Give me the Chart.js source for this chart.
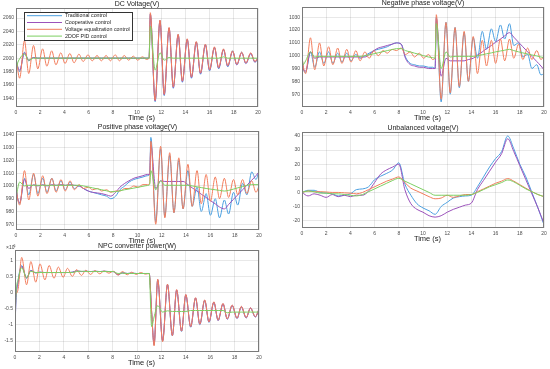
<!DOCTYPE html>
<html lang="en">
  <head>
    <meta charset="UTF-8" />
    <title>Control comparison</title>
    <script src="https://cdn.jsdelivr.net/npm/chart.js"></script>
    <style>
      body { margin: 0; background: #fff; width: 550px; height: 369px; overflow: hidden; position: relative; }
      canvas { position: absolute; }
    </style>
  </head>
  <body>
    <canvas id="dcChart"></canvas>
    <canvas id="negChart"></canvas>
    <canvas id="posChart"></canvas>
    <canvas id="unbChart"></canvas>
    <canvas id="npcChart"></canvas>
    <script>
      // series names
      var seriesNames = ["Traditional control", "Cooperative control", "Voltage equalization control", "2DOF PID control"];
      var seriesColors = ["#4a9fe0", "#9b52bb", "#f27d5c", "#7dcf62"];

      var timeTicks = [0, 2, 4, 6, 8, 10, 12, 14, 16, 18, 20];

      // shared time samples (s) for DC / negative / positive panels
      var gridTime = [0, 0.1, 0.3, 0.7, 1.05, 1.45, 1.8, 2.2, 2.55, 2.95,
        3.3, 3.7, 4.05, 4.45, 4.8, 5.2, 5.55, 5.95, 6.3, 6.7,
        7.05, 7.45, 7.8, 8.2, 8.55, 8.95, 9.3, 9.7, 10.05, 10.45,
        10.8, 11.0, 11.1, 11.5, 11.9, 12.25, 12.65, 13.0, 13.4, 13.75,
        14.15, 14.5, 14.9, 15.25, 15.65, 16.0, 16.4, 16.75, 17.15, 17.5,
        17.9, 18.25, 18.65, 19.0, 19.4, 19.75, 20];

      // DC Voltage(V)
      var dcTicks = [1940, 1960, 1980, 2000, 2020, 2040, 2060];
      var dcTrad = [2000, 1990, 1980, 2009, 1996, 2001, 2000, 2000, 2000, 2000,
        2000, 2000, 2000, 2000, 2000, 2000, 2000, 2000, 2000, 2000,
        2000, 2000, 2000, 2000, 2000, 2000, 2000, 2000, 2000, 2000,
        2000, 2000, 2066, 1935, 2056, 1944, 2045, 1955, 2035, 1964,
        2028, 1970, 2024, 1976, 2020, 1981, 2016, 1984, 2013, 1987,
        2011, 1990, 2009, 1992, 2007, 1994, 2000];
      var dcCoop = [2000, 1990, 1982, 2008, 1997, 2001, 2000, 2000, 2000, 2000,
        2000, 2000, 2000, 2000, 2000, 2000, 2000, 2000, 2000, 2000,
        2000, 2000, 2000, 2000, 2000, 2000, 2000, 2000, 2000, 2000,
        2000, 2000, 2066, 1936, 2056, 1945, 2045, 1956, 2035, 1965,
        2028, 1971, 2024, 1977, 2020, 1982, 2016, 1985, 2013, 1988,
        2010, 1990, 2008, 1992, 2007, 1994, 2000];
      var dcEqual = [2000, 1988, 1970, 2026, 1977, 2019, 1984, 2014, 1988, 2011,
        1990, 2008, 1992, 2007, 1993, 2006, 1995, 2005, 1996, 2004,
        1996, 2004, 1996, 2005, 1996, 2004, 1997, 2003, 1997, 2002,
        1998, 2000, 2068, 1937, 2057, 1946, 2046, 1957, 2036, 1966,
        2029, 1972, 2025, 1978, 2021, 1983, 2017, 1986, 2014, 1989,
        2011, 1991, 2009, 1993, 2008, 1995, 2002];
      var dcPid = [1978, 1990, 1999, 2006, 1997, 2000, 2000, 2000, 2000, 2000,
        2000, 2000, 2000, 2000, 2000, 2000, 2000, 2000, 2000, 2000,
        2000, 2000, 2000, 2000, 2000, 2000, 2000, 2000, 2000, 2000,
        2000, 2000, 2048, 1982, 2008, 1997, 2001, 2000, 2000, 2000,
        2000, 2000, 2000, 2000, 2000, 2000, 2000, 2000, 2002, 2000,
        2000, 2000, 2000, 2000, 2000, 2000, 2000];

      // Negative phase voltage(V)
      var negTicks = [970, 980, 990, 1000, 1010, 1020, 1030];
      var negTrad = [1000, 990, 987, 1003, 991, 1003, 994, 1003, 994, 1002,
        995, 1002, 996, 1001, 998, 1000, 1002, 1004, 1005, 1006,
        1007, 1009, 1010, 1009, 999, 994, 993, 992, 992, 991,
        991, 990, 1030, 964, 1026, 970, 1022, 975, 1018, 980,
        1014, 998, 1019, 1005, 1021, 1011, 1024, 1013, 1025, 1008,
        1010, 999, 1001, 990, 993, 985, 986];
      var negCoop = [1000, 990, 988, 1003, 998, 999, 999, 999, 999, 999,
        999, 999, 999, 999, 999, 999, 1001, 1004, 1006, 1007,
        1008, 1009, 1010, 1009, 998, 993, 992, 991, 991, 990,
        990, 990, 1029, 984, 998, 996, 996, 996, 996, 997,
        998, 1000.5, 1003, 1005.5, 1008, 1010.5, 1013, 1015.5, 1018, 1014.5,
        1010.5, 1007, 1003, 999.5, 995.5, 992, 989];
      var negEqual = [1000, 992, 986, 1014, 989, 1010, 992, 1007, 993, 1006,
        994, 1005, 995, 1004, 996, 1003, 998, 1004, 1000, 1004,
        1002, 1005, 1004, 1006, 1001, 1003, 999, 1002, 998, 1001,
        997, 998, 1032, 966, 1026, 971, 1022, 976, 1019, 980,
        1015, 986, 1012, 992, 1012, 994, 1013, 996, 1013, 998,
        1009, 997, 1006, 997, 1004, 997, 1000];
      var negPid = [1000, 993, 996, 1003, 999, 999.5, 999.5, 999.5, 999.5, 999.5,
        999.5, 999.5, 999.5, 999.5, 999.5, 1000, 1000.7, 1001.5, 1002.3, 1003.2,
        1004, 1004.8, 1005.5, 1005.5, 1004, 1003, 1002, 1001, 1000, 999,
        998.5, 998, 1025, 990, 1003, 999, 999.5, 999.5, 999.5, 999.5,
        999.5, 1000, 1000.8, 1001.5, 1002.2, 1003, 1003.7, 1004.3, 1005, 1004,
        1003, 1002.2, 1001.4, 1000.6, 999.8, 999, 998.5];

      // Positive phase voltage(V)
      var posTicks = [970, 980, 990, 1000, 1010, 1020, 1030, 1040];
      var posTrad = [1000, 992, 986, 1006, 993, 1009, 994, 1006, 995, 1006,
        996, 1004, 997, 1003, 998, 1000, 998, 996, 995, 994,
        993, 992, 990, 992, 997, 1000, 1003, 1005, 1006, 1007,
        1008, 1009, 1038, 972, 1029, 976, 1024, 979, 1020, 982,
        1012, 984, 999, 980, 994, 977, 990, 975, 989, 978,
        995, 985, 1002, 993, 1011, 1005, 1012];
      var posCoop = [1000, 992, 987, 1005, 998, 1001, 1000, 1001, 1000, 1001,
        1000.5, 1001, 1000.5, 1001, 1000.5, 1000, 998, 996, 995, 994.5,
        994, 993, 992, 995, 999, 1002, 1004, 1006, 1007, 1008,
        1009, 1009, 1032, 998, 1004, 1003.5, 1003.5, 1003.5, 1003.5, 1003.5,
        1001, 998.5, 996, 993.5, 991, 988.5, 986, 983.5, 982, 985.5,
        989.5, 993, 997, 1000.5, 1004.5, 1008, 1011];
      var posEqual = [1000, 992, 985, 1012, 989, 1010, 992, 1008, 994, 1006,
        995, 1005, 996, 1004, 997, 1001, 998, 999, 997, 998,
        996, 997, 995, 996, 996, 998, 998, 1000, 999, 1001,
        1001, 1002, 1035, 970, 1031, 975, 1026, 979, 1022, 982,
        1017, 984, 1012, 986, 1009, 988, 1007, 990, 1006, 991,
        1005, 993, 1005, 994, 1004, 995, 1000];
      var posPid = [991, 996, 1003, 1000, 1000.5, 1000.5, 1000.5, 1000.5, 1000.5, 1000.5,
        1000.5, 1000.5, 1000.5, 1000.5, 1000.5, 1000.5, 1000, 999.2, 998.5, 997.7,
        997, 996.2, 995.5, 995.5, 996.2, 997, 997.6, 998.3, 999, 999.7,
        1000.3, 1001, 1012, 997, 1004, 1000.5, 1000.5, 1000.5, 1000.5, 1000.5,
        1000.5, 1000, 999.3, 998.7, 998, 997.5, 997, 996.5, 996, 996.5,
        997.5, 998.5, 999.5, 1000.5, 1001, 1001, 1001];

      // Unbalanced voltage(V)
      var unbTicks = [-20, -10, 0, 10, 20, 30, 40];
      var unbTime = [0, 0.5, 1, 1.5, 2, 2.5, 3, 3.5, 4, 4.5,
        5, 5.5, 6, 6.5, 7, 7.5, 8, 8.5, 9, 9.5,
        10, 10.5, 11, 11.5, 12, 12.5, 13, 13.5, 14, 14.5,
        15, 15.5, 16, 16.5, 17, 17.5, 18, 18.5, 19, 19.5, 20];
      var unbTrad = [0, 1.5, 1.5, 0, -0.5, -1, -2.5, -2, -1, 2,
        2.5, 4, 9, 11.5, 13.5, 16, 21, 6, -2, -8,
        -11, -13, -15.5, -10, -7, -4, -3, -2.5, -2, 4,
        11, 18, 24, 29, 40, 31, 20, 11, 0, -11, -23];
      var unbCoop = [0, -2.5, -1, -2, -3.5, -1.5, -3, -2, -3, -2,
        -2, 1, 7, 13, 16, 18, 20, 2, -8, -12,
        -14, -16.5, -17.5, -16.5, -14, -12, -10.5, -9, -7.5, 2,
        8.5, 15, 21.5, 27.5, 38, 29, 19, 9, -1, -11, -22];
      var unbEqual = [0, 1, 0.5, 0.5, 0.3, 0, 0, -0.3, -0.5, -1,
        0, 2, 4, 6, 8, 9.5, 11, 7, 3, 1,
        -1, -3, -4.5, -4, -2, -3.5, -2.5, -1.5, -1.5, 0.5,
        2.5, 4.5, 6.5, 8, 9.8, 8, 5.5, 3, 0.5, -1.5, -3];
      var unbPid = [0, 1, 0.5, -0.5, -0.5, -1, -1, -1.5, -2, -2.5,
        -1.5, 0.5, 2.5, 4.5, 6.5, 8.5, 10, 8, 6, 4,
        2, 0, -2, -2, -2, -2, -2, -2, -1.5, 0,
        2, 4, 5.5, 7, 8.8, 7.5, 5, 2.5, 0.5, -1.5, -3];

      // NPC converter power(W), in units of 10^6
      var npcTicks = [-1.5, -1, -0.5, 0, 0.5, 1];
      var npcTime = [0, 0.05, 0.25, 0.55, 0.95, 1.3, 1.7, 2.05, 2.45, 2.8,
        3.2, 3.55, 3.95, 4.3, 4.7, 5.05, 5.45, 5.8, 6.2, 6.55,
        6.95, 7.3, 7.7, 8.05, 8.45, 8.8, 9.2, 9.55, 9.95, 10.3,
        10.7, 11.0, 11.2, 11.4, 11.7, 12.1, 12.5, 12.9, 13.25, 13.65,
        14.0, 14.4, 14.8, 15.15, 15.55, 15.9, 16.3, 16.65, 17.05, 17.4,
        17.8, 18.2, 18.55, 18.95, 19.3, 19.7, 20];
      var npcTrad = [-1.5, -0.5, 0.35, 0.85, 0.45, 0.7, 0.62, 0.64, 0.63, 0.63,
        0.63, 0.63, 0.63, 0.63, 0.64, 0.68, 0.66, 0.67, 0.66, 0.67,
        0.66, 0.67, 0.66, 0.66, 0.56, 0.62, 0.6, 0.61, 0.6, 0.6,
        0.6, 0.6, -0.6, -1.62, 0.4, -1.5, 0.25, -1.34, 0.08, -1.2,
        -0.07, -1.07, -0.17, -0.99, -0.24, -0.92, -0.3, -0.86, -0.35, -0.82,
        -0.4, -0.8, -0.44, -0.78, -0.48, -0.75, -0.52];
      var npcCoop = [-1.5, -0.5, 0.3, 0.82, 0.47, 0.69, 0.62, 0.64, 0.63, 0.63,
        0.63, 0.63, 0.63, 0.63, 0.64, 0.68, 0.66, 0.67, 0.66, 0.67,
        0.66, 0.67, 0.66, 0.66, 0.56, 0.62, 0.6, 0.61, 0.6, 0.6,
        0.6, 0.6, -0.6, -1.6, 0.41, -1.49, 0.26, -1.33, 0.09, -1.19,
        -0.06, -1.06, -0.16, -0.98, -0.23, -0.91, -0.29, -0.86, -0.34, -0.82,
        -0.39, -0.8, -0.43, -0.78, -0.47, -0.75, -0.51];
      var npcEqual = [0, -0.02, 0.1, 1.1, 0.25, 0.97, 0.33, 0.9, 0.4, 0.85,
        0.45, 0.8, 0.48, 0.76, 0.51, 0.72, 0.54, 0.7, 0.57, 0.69,
        0.59, 0.68, 0.61, 0.67, 0.55, 0.66, 0.56, 0.64, 0.57, 0.63,
        0.58, 0.6, -0.6, -1.65, 0.42, -1.52, 0.27, -1.33, 0.1, -1.19,
        -0.05, -1.05, -0.15, -0.97, -0.22, -0.9, -0.28, -0.85, -0.33, -0.81,
        -0.38, -0.79, -0.42, -0.77, -0.47, -0.74, -0.5];
      var npcPid = [-1.5, -0.3, 0.4, 0.78, 0.47, 0.67, 0.63, 0.63, 0.63, 0.63,
        0.63, 0.63, 0.63, 0.63, 0.63, 0.66, 0.67, 0.66, 0.66, 0.66,
        0.66, 0.66, 0.66, 0.66, 0.6, 0.61, 0.6, 0.6, 0.6, 0.6,
        0.6, 0.6, -1.05, -0.75, -0.4, -0.6, -0.56, -0.58, -0.58, -0.58,
        -0.58, -0.55, -0.55, -0.55, -0.55, -0.55, -0.55, -0.55, -0.55, -0.62,
        -0.6, -0.6, -0.6, -0.6, -0.6, -0.6, -0.6];

      var FONT = '"Liberation Sans", Arial, sans-serif';

      // frame box, titles, legend, exponent
      var panelText = {
        id: "panelText",
        afterDraw: function (chart, args, opts) {
          var ctx = chart.ctx;
          var a = chart.chartArea;
          ctx.save();
          ctx.strokeStyle = "#7a7a7a";
          ctx.lineWidth = 1;
          ctx.strokeRect(Math.round(a.left) + 0.5, Math.round(a.top) + 0.5,
            Math.round(a.right - a.left) - 1, Math.round(a.bottom - a.top) - 1);

          ctx.fillStyle = "#222";
          ctx.font = "7px " + FONT;
          ctx.textAlign = "center";
          ctx.textBaseline = "middle";
          ctx.fillText(opts.title, (a.left + a.right) / 2, a.top - 4);
          ctx.font = "7.5px " + FONT;
          ctx.fillText("Time (s)", (a.left + a.right) / 2 + 4.5, a.bottom + 11);

          if (opts.exponent) {
            ctx.textAlign = "left";
            ctx.font = "5px " + FONT;
            ctx.fillStyle = "#444";
            ctx.fillText("\u00d710", a.left - 9, a.top - 2);
            ctx.font = "3.5px " + FONT;
            ctx.fillText("6", a.left - 1.5, a.top - 4);
          }

          if (opts.legend) {
            var lx = Math.round(a.left) + 8, ly = Math.round(a.top) + 4;
            ctx.fillStyle = "#fff";
            ctx.fillRect(lx, ly, 108, 28);
            ctx.strokeStyle = "#333";
            ctx.strokeRect(lx + 0.5, ly + 0.5, 108, 28);
            ctx.font = "5.3px " + FONT;
            ctx.textAlign = "left";
            chart.data.datasets.forEach(function (ds, i) {
              var y = ly + 3.7 + i * 6.8;
              ctx.strokeStyle = ds.borderColor;
              ctx.beginPath();
              ctx.moveTo(lx + 3, y);
              ctx.lineTo(lx + 38, y);
              ctx.stroke();
              ctx.fillStyle = "#222";
              ctx.fillText(ds.label, lx + 41, y);
            });
          }
          ctx.restore();
        },
      };

      function makeSeries(time, values, k) {
        return {
          label: seriesNames[k],
          data: time.map(function (t, i) { return { x: t, y: values[i] }; }),
          borderColor: seriesColors[k],
          borderWidth: 1,
          pointRadius: 0,
          cubicInterpolationMode: "monotone",
          order: 4 - k,
        };
      }

      // box: chart-area left, top, right, bottom in page pixels
      function makePanel(id, box, yMin, yMax, yTicks, time, series, title, extra) {
        var yw = Math.min(box[0], 24), tp = 12, rp = 6, xh = 15;
        var canvas = document.getElementById(id);
        canvas.width = box[2] - box[0] + yw + rp;
        canvas.height = box[3] - box[1] + tp + xh;
        canvas.style.left = box[0] - yw + "px";
        canvas.style.top = box[1] - tp + "px";

        var tickStyle = { font: { size: 5, family: FONT }, color: "#4d4d4d" };
        var gridStyle = { color: "rgba(0,0,0,0.09)", drawTicks: false };

        new Chart(canvas.getContext("2d"), {
          type: "line",
          data: { datasets: series.map(function (v, k) { return makeSeries(time, v, k); }) },
          options: {
            responsive: false,
            animation: false,
            layout: { padding: { top: tp, right: rp, left: 0, bottom: 0 } },
            plugins: {
              legend: { display: false },
              tooltip: { enabled: false },
              panelText: Object.assign({ title: title }, extra || {}),
            },
            scales: {
              x: {
                type: "linear", min: 0, max: 20,
                afterFit: function (s) { s.height = xh; },
                afterBuildTicks: function (s) { s.ticks = timeTicks.map(function (v) { return { value: v }; }); },
                ticks: Object.assign({ padding: 3, maxRotation: 0, autoSkip: false,
                  callback: function (v) { return String(v); } }, tickStyle),
                grid: gridStyle,
                border: { display: false },
              },
              y: {
                min: yMin, max: yMax,
                afterFit: function (s) { s.width = yw; },
                afterBuildTicks: function (s) { s.ticks = yTicks.map(function (v) { return { value: v }; }); },
                ticks: Object.assign({ padding: 2, autoSkip: false,
                  callback: function (v) { return String(v); } }, tickStyle),
                grid: gridStyle,
                border: { display: false },
              },
            },
          },
          plugins: [panelText],
        });
      }

      makePanel("dcChart", [16, 8, 258, 107], 1927, 2075, dcTicks, gridTime,
        [dcTrad, dcCoop, dcEqual, dcPid], "DC Voltage(V)", { legend: true });
      makePanel("negChart", [302, 7, 544, 107], 960, 1038, negTicks, gridTime,
        [negTrad, negCoop, negEqual, negPid], "Negative phase voltage(V)");
      makePanel("posChart", [16, 131, 259, 230], 965.5, 1043, posTicks, gridTime,
        [posTrad, posCoop, posEqual, posPid], "Positive phase voltage(V)");
      makePanel("unbChart", [302, 132, 544, 228], -25.2, 42.8, unbTicks, unbTime,
        [unbTrad, unbCoop, unbEqual, unbPid], "Unbalanced voltage(V)");
      makePanel("npcChart", [15, 250, 259, 352], -1.84, 1.33, npcTicks, npcTime,
        [npcTrad, npcCoop, npcEqual, npcPid], "NPC converter power(W)", { exponent: true });
    </script>
  </body>
</html>
